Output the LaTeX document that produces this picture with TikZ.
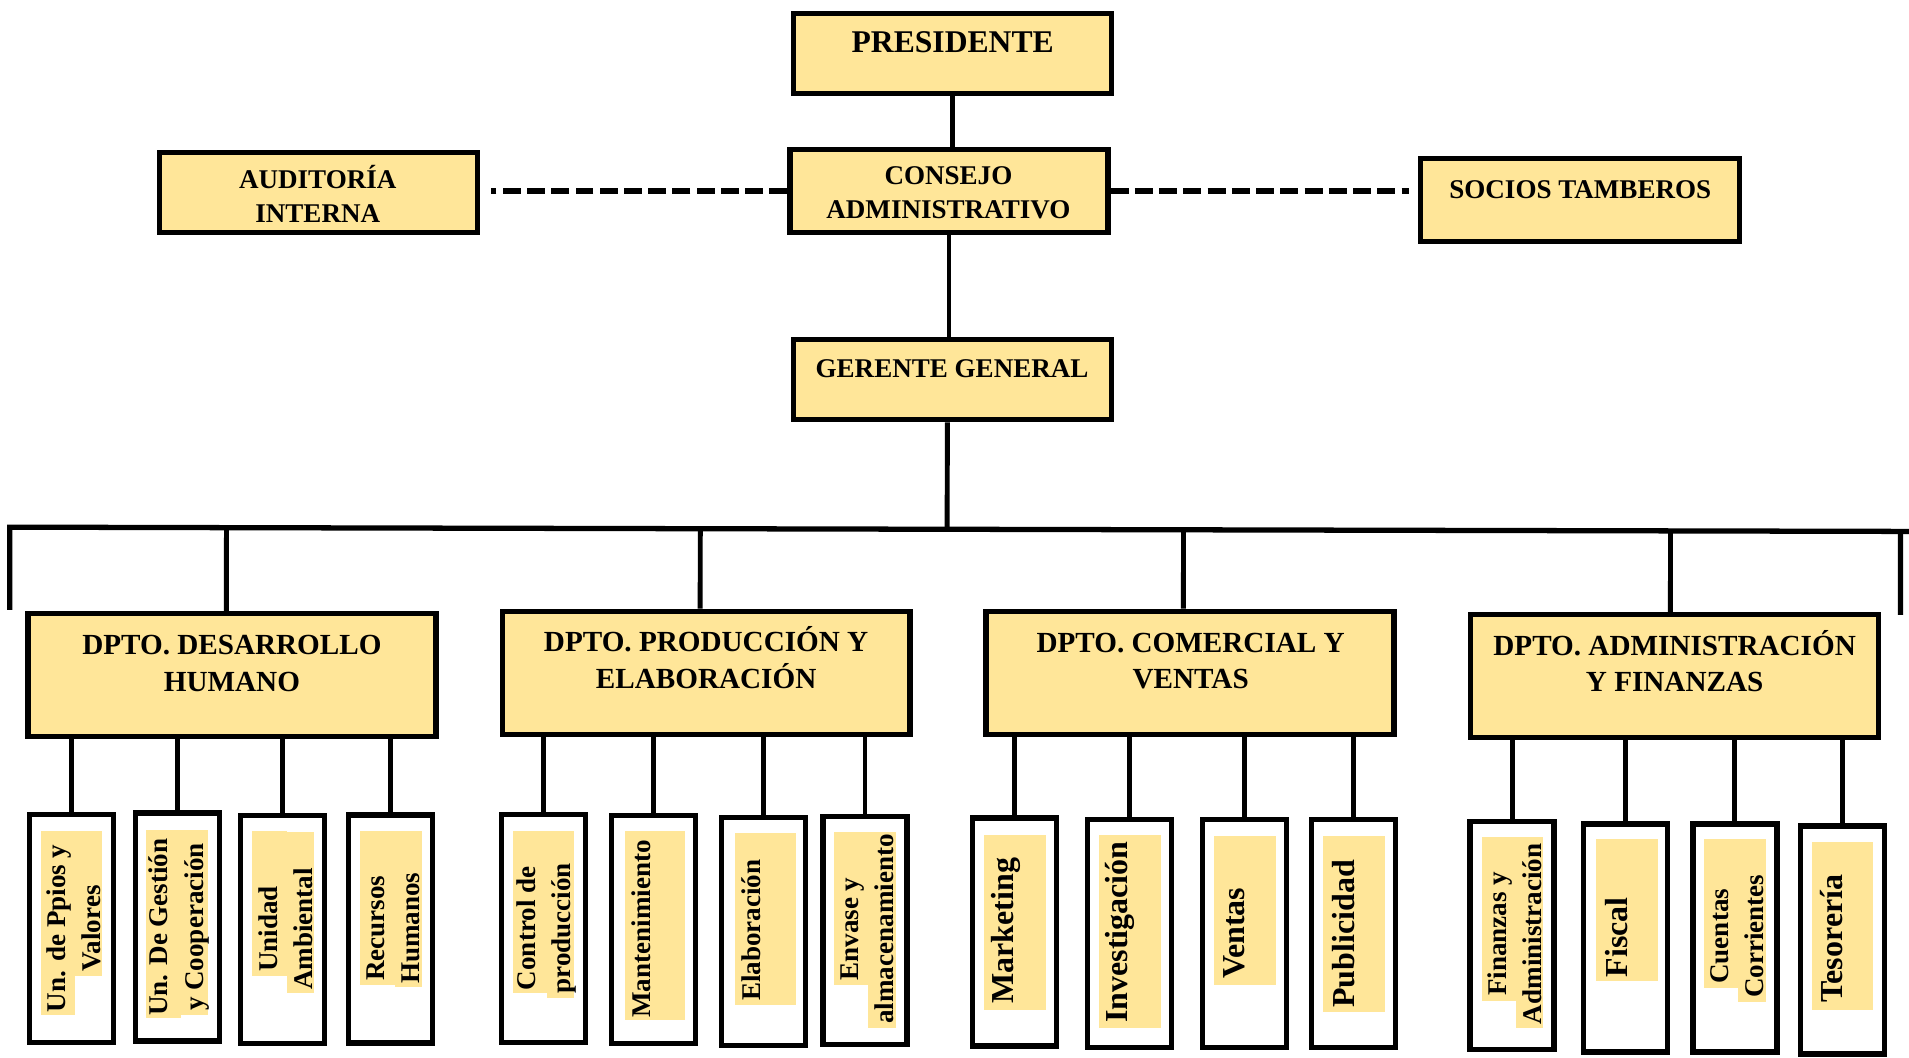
\documentclass[tikz,border=0pt]{standalone}
\usepackage{fontspec}
\setmainfont{Liberation Serif}
\usetikzlibrary{calc}
\definecolor{amarillo}{HTML}{FFE699}

\tikzset{
  caja/.style={draw, line width=1.5pt, fill=amarillo, inner sep=0pt},
  cajasup/.style={caja, minimum width=3.18cm, minimum height=0.80cm},
  cajadpto/.style={caja, minimum width=4.08cm, minimum height=1.23cm},
  cajasub/.style={draw, line width=1.5pt, fill=white, inner sep=0pt, minimum width=0.84cm, minimum height=2.28cm},
  titulo/.style={font=\fontsize{7.7}{9.7}\selectfont\bfseries, align=center, inner sep=0pt},
  tdpto/.style={font=\fontsize{8.3}{10.4}\selectfont\bfseries, align=center, inner sep=0pt},
  tsub/.style={font=\fontsize{7.7}{10}\selectfont\bfseries, align=center, inner sep=0pt, rotate=90},
  tsubg/.style={tsub, font=\fontsize{9.1}{11}\selectfont\bfseries},
  resaltado/.style={fill=amarillo},
  linea/.style={line width=1.4pt},
  bus/.style={line width=1.5pt},
  punteada/.style={line width=1.7pt, dash pattern=on 5.1pt off 1.8pt}
}

\begin{document}
\begin{tikzpicture}[x=0.012175cm, y=-0.012175cm]
\useasboundingbox (0,0) rectangle (1568,869);

% cajas superiores
\node[cajasup] (pres) at (782.5,44) {};
\node[cajasup, minimum height=0.83cm] (cons) at (779.5,157) {};
\node[cajasup] (audit) at (261.5,158) {};
\node[cajasup, minimum width=3.19cm, minimum height=0.83cm] (socios) at (1298,164) {};
\node[cajasup] (ger) at (782.5,312) {};

\node[titulo, font=\fontsize{9}{11}\selectfont\bfseries] (presT) at (782.5,35) {PRESIDENTE};
\node[titulo] (consT) at (779,158.5) {CONSEJO\\ADMINISTRATIVO};
\node[titulo] (auditT) at (261,159) {AUDITORÍA\\INTERNA};
\node[titulo] (sociosT) at (1298,156) {SOCIOS TAMBEROS};
\node[titulo] (gerT) at (782,303) {GERENTE GENERAL};

\draw[linea] (pres.south) -- (pres.south |- cons.north);
\draw[linea] (cons.south) -- (cons.south |- ger.north);
\draw[punteada, shorten >=3pt] (cons.west) -- (cons.west -| audit.east);
\draw[punteada, shorten >=2.5pt] (cons.east) -- (cons.east -| socios.west);

% barra de departamentos
\coordinate (busL) at (8,433);
\coordinate (busR) at (1568,436.5);
\coordinate (finI) at (8,501);
\coordinate (finD) at (1561,505);
\draw[linea] ([xshift=-1.5pt]ger.south) -- ($(busL)!([xshift=-1.5pt]ger.south)!(busR)$);
\draw[bus] (finI) -- (busL) -- (busR);
\draw[bus] (finD) -- ($(busL)!(finD)!(busR)$);

% departamentos
\node[cajadpto] (d1) at (190.5,554.5) {};
\node[cajadpto] (d2) at (580,552.5) {};
\node[cajadpto] (d3) at (977.5,552.5) {};
\node[cajadpto] (d4) at (1375.5,555.5) {};

\node[tdpto] (d1T) at (190.5,545) {DPTO. DESARROLLO\\HUMANO};
\node[tdpto] (d2T) at (580,540) {DPTO. PRODUCCIÓN Y\\ELABORACIÓN};
\node[tdpto] (d3T) at (978,543) {DPTO. COMERCIAL Y\\VENTAS};
\node[tdpto] (d4T) at (1375.5,543) {DPTO. ADMINISTRACIÓN\\Y FINANZAS};

\draw[linea] ([xshift=-1.6pt]d1.north) -- ($(busL)!([xshift=-1.6pt]d1.north)!(busR)$);
\draw[linea] ([xshift=-1.7pt]d2.north) -- ($(busL)!([xshift=-1.7pt]d2.north)!(busR)$);
\draw[linea] ([xshift=-1.9pt]d3.north) -- ($(busL)!([xshift=-1.9pt]d3.north)!(busR)$);
\draw[linea] ([xshift=-1.2pt]d4.north) -- ($(busL)!([xshift=-1.2pt]d4.north)!(busR)$);

% unidades
\node[cajasub] (s1) at (59,762.5) {};
\node[cajasub] (s2) at (145.5,761.5) {};
\node[cajasub] (s3) at (232,763.5) {};
\node[cajasub] (s4) at (321,763) {};
\node[cajasub] (s5) at (446.5,762.5) {};
\node[cajasub] (s6) at (537,763.5) {};
\node[cajasub] (s7) at (627,765) {};
\node[cajasub] (s8) at (710.5,764) {};
\node[cajasub] (s9) at (833,765.5) {};
\node[cajasub] (s10) at (928,766.5) {};
\node[cajasub] (s11) at (1022,767) {};
\node[cajasub] (s12) at (1111.5,767) {};
\node[cajasub] (s13) at (1242,768.5) {};
\node[cajasub] (s14) at (1335,770.5) {};
\node[cajasub] (s15) at (1425,770.5) {};
\node[cajasub] (s16) at (1513.5,772) {};

\draw[linea] (s1.north) -- (s1.north |- d1.south);
\draw[linea] (s2.north) -- (s2.north |- d1.south);
\draw[linea] (s3.north) -- (s3.north |- d1.south);
\draw[linea] (s4.north) -- (s4.north |- d1.south);
\draw[linea] (s5.north) -- (s5.north |- d2.south);
\draw[linea] (s6.north) -- (s6.north |- d2.south);
\draw[linea] (s7.north) -- (s7.north |- d2.south);
\draw[linea] (s8.north) -- (s8.north |- d2.south);
\draw[linea] (s9.north) -- (s9.north |- d3.south);
\draw[linea] (s10.north) -- (s10.north |- d3.south);
\draw[linea] (s11.north) -- (s11.north |- d3.south);
\draw[linea] (s12.north) -- (s12.north |- d3.south);
\draw[linea] (s13.north) -- (s13.north |- d4.south);
\draw[linea] (s14.north) -- (s14.north |- d4.south);
\draw[linea] (s15.north) -- (s15.north |- d4.south);
\draw[linea] (s16.north) -- (s16.north |- d4.south);

% resaltado del texto
\fill[resaltado] (33.7,682.6) rectangle (61.9,833.7);
\fill[resaltado] (61.9,682.6) rectangle (84,802);
\fill[resaltado] (119.7,681.8) rectangle (148.4,836.5);
\fill[resaltado] (148.4,681.8) rectangle (171,833.7);
\fill[resaltado] (207.2,682.6) rectangle (235.4,801.7);
\fill[resaltado] (235.4,683.1) rectangle (258,816);
\fill[resaltado] (295.8,682.6) rectangle (324.4,809);
\fill[resaltado] (324.4,682.6) rectangle (347,811);
\fill[resaltado] (421.5,682.6) rectangle (449.2,816);
\fill[resaltado] (449.2,682.6) rectangle (471.8,819.5);
\fill[resaltado] (513,682.6) rectangle (562.4,837.8);
\fill[resaltado] (603.6,684.5) rectangle (654,825.5);
\fill[resaltado] (685,683.1) rectangle (713.3,809);
\fill[resaltado] (713.3,683.1) rectangle (736,844.7);
\fill[resaltado] (808,685.9) rectangle (859,829.6);
\fill[resaltado] (902.3,685.9) rectangle (953.6,844.7);
\fill[resaltado] (997.3,686.7) rectangle (1048,809);
\fill[resaltado] (1086.7,686.7) rectangle (1137.9,831);
\fill[resaltado] (1217.3,687.8) rectangle (1245,822);
\fill[resaltado] (1245,687.8) rectangle (1267.5,844.7);
\fill[resaltado] (1311.2,689.4) rectangle (1362,805.8);
\fill[resaltado] (1399.6,689.4) rectangle (1427.2,811.3);
\fill[resaltado] (1427.2,689.4) rectangle (1450.8,822.8);
\fill[resaltado] (1488.5,691.3) rectangle (1538.7,829.6);

\node[tsub] (s1T) at (60.4,762.5) {Un. de Ppios y\\Valores};
\node[tsub] (s2T) at (147,761.5) {Un. De Gestión\\y Cooperación};
\node[tsub] (s3T) at (234.5,763) {Unidad\\Ambiental};
\node[tsub] (s4T) at (323,762.5) {Recursos\\Humanos};
\node[tsub] (s5T) at (449,762.5) {Control de\\producción};
\node[tsub] (s6T) at (527,763) {Mantenimiento};
\node[tsub] (s7T) at (617,764) {Elaboración};
\node[tsub] (s8T) at (712,763) {Envase y\\almacenamiento};
\node[tsubg] (s9T) at (826,764.5) {Marketing};
\node[tsubg] (s10T) at (920,765.7) {Investigación};
\node[tsubg] (s11T) at (1014,766.5) {Ventas};
\node[tsubg] (s12T) at (1103.5,767) {Publicidad};
\node[tsub] (s13T) at (1244.5,767) {Finanzas y\\Administración};
\node[tsubg] (s14T) at (1328,770) {Fiscal};
\node[tsub] (s15T) at (1427,769) {Cuentas\\Corrientes};
\node[tsubg] (s16T) at (1504.5,771) {Tesorería};
\end{tikzpicture}
\end{document}
